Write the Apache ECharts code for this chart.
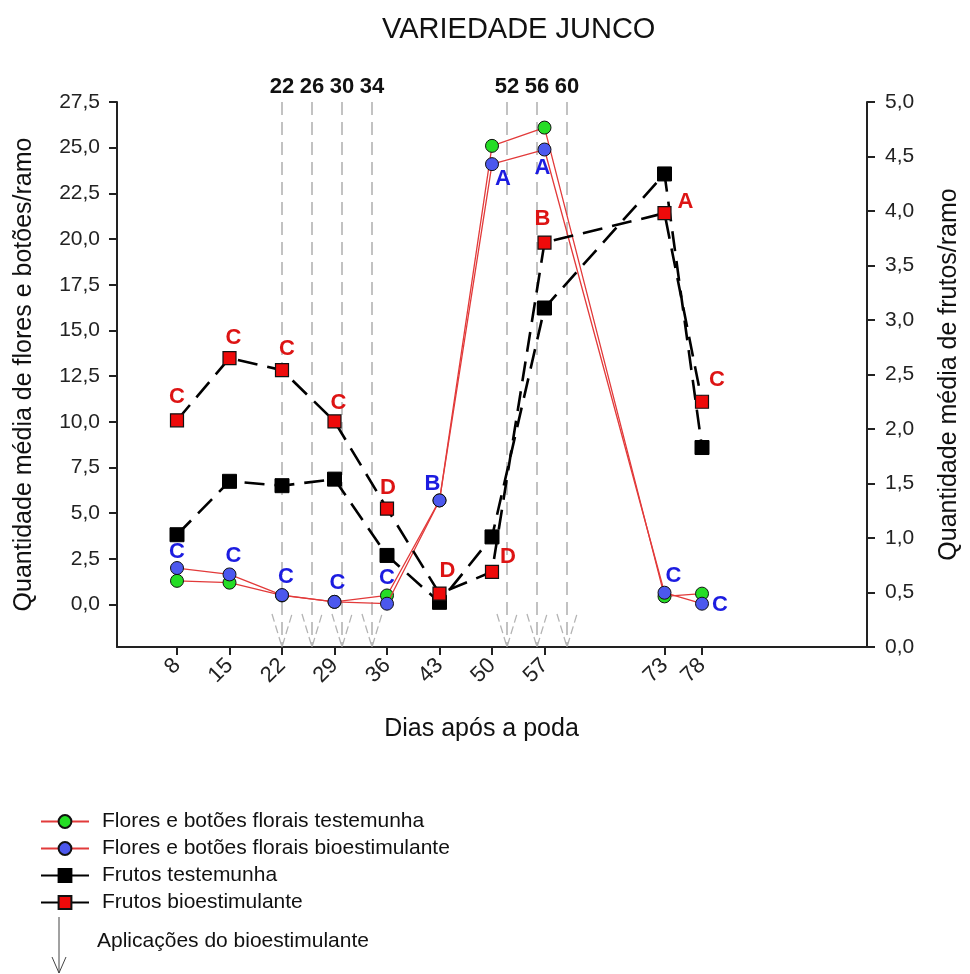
<!DOCTYPE html>
<html>
<head>
<meta charset="utf-8">
<script src="https://cdn.jsdelivr.net/npm/echarts@6/dist/echarts.min.js"></script>
<style>html,body{margin:0;padding:0;background:#fff}#c{width:970px;height:974px}</style>
</head>
<body>
<div id="c"></div>
<script>
// ---- data ----
const days = [8, 15, 22, 29, 36, 43, 50, 57, 73, 78];
const flowersControl = [1.3, 1.2, 0.5, 0.15, 0.5, 5.7, 25.1, 26.1, 0.45, 0.6];
const flowersBio = [2.0, 1.65, 0.52, 0.15, 0.05, 5.7, 24.1, 24.9, 0.65, 0.05];
const fruitsControl = [1.03, 1.52, 1.48, 1.54, 0.84, 0.41, 1.01, 3.11, 4.34, 1.83];
const fruitsBio = [2.08, 2.65, 2.54, 2.07, 1.27, 0.49, 0.69, 3.71, 3.98, 2.25];
const lettersFlowersBio = ['C', 'C', 'C', 'C', 'C', 'B', 'A', 'A', 'C', 'C'];
const lettersFruitsBio = ['C', 'C', 'C', 'C', 'D', 'D', 'D', 'B', 'A', 'C'];
const applicationDays = [22, 26, 30, 34, 52, 56, 60];
const leftTicks = [0, 2.5, 5, 7.5, 10, 12.5, 15, 17.5, 20, 22.5, 25, 27.5];
const seriesNames = ['Flores e botões florais testemunha', 'Flores e botões florais bioestimulante', 'Frutos testemunha', 'Frutos bioestimulante'];
const applicationName = 'Aplicações do bioestimulante';

// ---- styling (label offsets) ----
const offFlowersBio = [[0,-16],[4,-19],[4,-18],[3,-19],[0,-26],[-7,-16],[11,15],[-2,18],[9,-17],[18,1]];
const offFruitsBio = [[0,-23],[4,-20],[5,-21],[4,-18],[1,-21],[8,-23],[16,-15],[-2,-24],[21,-11],[15,-22]];

const FONT = "'Liberation Sans', Arial, sans-serif";
const fmt = v => v.toFixed(1).replace('.', ',');

function pts(arr, letters, offs, color) {
  return days.map((d, i) => {
    const item = { value: [d, arr[i]] };
    if (letters) {
      item.label = { show: true, formatter: letters[i], position: 'inside', offset: offs[i],
        color: color, fontWeight: 'bold', fontSize: 22, fontFamily: FONT };
    }
    return item;
  });
}

const chart = echarts.init(document.getElementById('c'), null, { renderer: 'canvas' });
chart.setOption({
  animation: false,
  backgroundColor: '#fff',
  textStyle: { fontFamily: FONT },
  title: { text: 'VARIEDADE JUNCO', left: 377, top: 10,
    textStyle: { fontSize: 29, fontWeight: 'normal', color: '#111', fontFamily: FONT } },
  grid: { left: 117, right: 96, top: 102, bottom: 327 },
  legend: {
    orient: 'vertical', left: 35, top: 806, itemWidth: 48, itemHeight: 16, itemGap: 6,
    textStyle: { fontSize: 21, color: '#111', fontFamily: FONT, padding: [0, 0, 0, 8] },
    data: [
      { name: seriesNames[0] },
      { name: seriesNames[1] },
      { name: seriesNames[2], lineStyle: { type: 'solid' } },
      { name: seriesNames[3], lineStyle: { type: [22, 9] } }
    ]
  },
  xAxis: {
    type: 'value', min: 0, max: 100,
    name: 'Dias após a poda', nameLocation: 'middle', nameGap: 70,
    nameTextStyle: { fontSize: 25, color: '#111', fontFamily: FONT, padding: [0, 21, 0, 0] },
    axisLine: { show: true, onZero: false, lineStyle: { color: '#222', width: 2 } },
    axisTick: { show: true, length: 8, customValues: days, lineStyle: { color: '#222', width: 2 } },
    axisLabel: { customValues: days, rotate: 45, fontSize: 22, color: '#222', margin: 15 },
    splitLine: { show: false }
  },
  yAxis: [
    {
      type: 'value', min: -2.32, max: 27.5, position: 'left',
      name: 'Quantidade média de flores e botões/ramo', nameLocation: 'middle', nameGap: 80,
      nameTextStyle: { fontSize: 25, color: '#111', fontFamily: FONT },
      axisLine: { show: true, onZero: false, lineStyle: { color: '#222', width: 2 } },
      axisTick: { show: true, length: 8, customValues: leftTicks, lineStyle: { color: '#222', width: 2 } },
      axisLabel: { customValues: leftTicks, formatter: fmt, fontSize: 21, color: '#222', margin: 17 },
      splitLine: { show: false }
    },
    {
      type: 'value', min: 0, max: 5, interval: 0.5, position: 'right',
      name: 'Quantidade média de frutos/ramo', nameLocation: 'middle', nameGap: 70,
      nameTextStyle: { fontSize: 25, color: '#111', fontFamily: FONT },
      axisLine: { show: true, onZero: false, lineStyle: { color: '#222', width: 2 } },
      axisTick: { show: true, length: 8, lineStyle: { color: '#222', width: 2 } },
      axisLabel: { formatter: fmt, fontSize: 21, color: '#222', margin: 18 },
      splitLine: { show: false }
    }
  ],
  series: [
    {
      name: applicationName, type: 'custom', yAxisIndex: 1, clip: false, z: 1, silent: true,
      data: applicationDays.map(d => [d, 0]),
      renderItem: function (params, api) {
        const x = api.coord([api.value(0), 0])[0];
        const cs = params.coordSys;
        const top = cs.y, bottom = cs.y + cs.height;
        return {
          type: 'group',
          children: [
            { type: 'line', shape: { x1: x, y1: top, x2: x, y2: bottom },
              style: { stroke: '#a2a2a2', lineWidth: 1.3, lineDash: [13, 7] } },
            { type: 'polyline', shape: { points: [[x - 10, bottom - 33], [x, bottom], [x + 10, bottom - 33]] },
              style: { stroke: '#b4b4b4', fill: null, lineWidth: 1.3, lineDash: [8, 4] } },
            { type: 'text', x: x, y: top - 15,
              style: { text: String(api.value(0)), align: 'center', verticalAlign: 'middle',
                font: "bold 22px 'Liberation Sans', Arial, sans-serif", fill: '#111' } }
          ]
        };
      }
    },
    {
      name: seriesNames[0], type: 'line', yAxisIndex: 0, z: 3,
      data: pts(flowersControl),
      symbol: 'circle', symbolSize: 13,
      lineStyle: { color: '#e23a3a', width: 1.3 },
      itemStyle: { color: '#25dd25', borderColor: '#111', borderWidth: 1 }
    },
    {
      name: seriesNames[1], type: 'line', yAxisIndex: 0, z: 4,
      data: pts(flowersBio, lettersFlowersBio, offFlowersBio, '#1c1ce0'),
      symbol: 'circle', symbolSize: 13,
      lineStyle: { color: '#e23a3a', width: 1.3 },
      itemStyle: { color: '#4c58ee', borderColor: '#111', borderWidth: 1 }
    },
    {
      name: seriesNames[2], type: 'line', yAxisIndex: 1, z: 5,
      data: pts(fruitsControl),
      symbol: 'rect', symbolSize: 14,
      lineStyle: { color: '#000', width: 2.6, type: [20, 10] },
      itemStyle: { color: '#000', borderColor: '#000', borderWidth: 1 }
    },
    {
      name: seriesNames[3], type: 'line', yAxisIndex: 1, z: 6,
      data: pts(fruitsBio, lettersFruitsBio, offFruitsBio, '#dd1414'),
      symbol: 'rect', symbolSize: 13,
      lineStyle: { color: '#000', width: 2.6, type: [20, 10] },
      itemStyle: { color: '#ee0a0a', borderColor: '#111', borderWidth: 1.2 }
    }
  ],
  graphic: [
    { type: 'line', shape: { x1: 59, y1: 917, x2: 59, y2: 973 }, style: { stroke: '#444', lineWidth: 1 } },
    { type: 'polyline', shape: { points: [[52, 957], [59, 973], [66, 957]] }, style: { stroke: '#444', fill: null, lineWidth: 1 } },
    { type: 'text', left: 97, top: 931, style: { text: applicationName, font: "21px 'Liberation Sans', Arial, sans-serif", fill: '#111' } }
  ]
});
</script>
</body>
</html>
